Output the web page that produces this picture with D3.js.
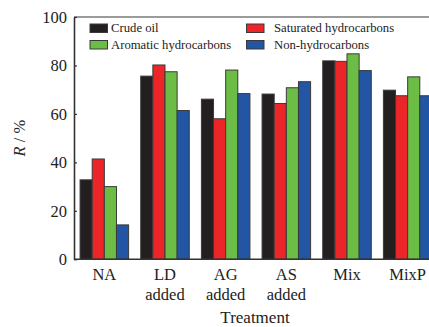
<!DOCTYPE html>
<html>
<head>
<meta charset="utf-8">
<script src="https://cdn.jsdelivr.net/npm/d3@7/dist/d3.min.js"></script>
<style>
  html, body { margin: 0; padding: 0; background: #fff; }
  svg { display: block; }
  svg text { font-family: "Liberation Serif"; }
</style>
</head>
<body>
<svg id="chart" width="429" height="327"></svg>
<script>
// Treatments (two-line labels) and recovery per fraction, R / %
const categories = ["NA", "LD added", "AG added", "AS added", "Mix", "MixP"];
const categoryLines = [["NA"], ["LD", "added"], ["AG", "added"], ["AS", "added"], ["Mix"], ["MixP"]];
const seriesNames = ["Crude oil", "Saturated hydrocarbons", "Aromatic hydrocarbons", "Non-hydrocarbons"];
const crudeOil   = [32.8, 75.6, 66.1, 68.2, 81.9, 69.8];
const saturated  = [41.4, 80.2, 58.0, 64.3, 81.7, 67.5];
const aromatic   = [30.0, 77.4, 78.1, 70.8, 84.8, 75.3];
const nonHydro   = [14.2, 61.4, 68.4, 73.3, 77.9, 67.5];
const yTicks = [0, 20, 40, 60, 80, 100];

const seriesValues = [crudeOil, saturated, aromatic, nonHydro];
const colors = ["#231f20", "#ec2528", "#6cbd45", "#2355a5"];
const serif = "Liberation Serif";

const svg = d3.select("#chart");
const mLeft = 74, mTop = 17, mBottom = 259.3, mRight = 438;

const x = d3.scaleBand().domain(categories).range([mLeft, mRight])
  .paddingInner(0.2).paddingOuter(0.1);
const xs = d3.scaleBand().domain(seriesNames).range([0, x.bandwidth()]);
const y = d3.scaleLinear().domain([0, 100]).range([mBottom, mTop]);

// Bars
const rows = categories.map((c, i) => ({ c, vals: seriesValues.map((s, j) => ({ name: seriesNames[j], v: s[i], color: colors[j] })) }));
const groups = svg.append("g").selectAll("g").data(rows).join("g")
  .attr("transform", d => `translate(${x(d.c)},0)`);
groups.selectAll("rect").data(d => d.vals).join("rect")
  .attr("x", d => xs(d.name))
  .attr("y", d => y(d.v))
  .attr("width", xs.bandwidth())
  .attr("height", d => y(0) - y(d.v))
  .attr("fill", d => d.color)
  .attr("stroke", "#3a3a3a")
  .attr("stroke-width", 1);

// Plot frame top edge
svg.append("line")
  .attr("x1", mLeft).attr("x2", 429).attr("y1", mTop).attr("y2", mTop)
  .attr("stroke", "#7a7a7a").attr("stroke-width", 1.6);

// Y axis
const yAxis = svg.append("g").attr("transform", `translate(${mLeft},0)`)
  .call(d3.axisLeft(y).tickValues(yTicks).tickSizeInner(-3).tickSizeOuter(0).tickPadding(7));
yAxis.attr("font-family", serif);
yAxis.select(".domain").attr("stroke", "#333").attr("stroke-width", 1.6);
yAxis.selectAll(".tick line").attr("stroke", "#333").attr("stroke-width", 1.2);
yAxis.selectAll(".tick text").attr("font-size", 16.5).attr("fill", "#222");

// X axis baseline
svg.append("line")
  .attr("x1", mLeft).attr("x2", 429).attr("y1", y(0)).attr("y2", y(0))
  .attr("stroke", "#333").attr("stroke-width", 1.6);

// Category labels
const catG = svg.append("g").selectAll("text").data(categories).join("text")
  .attr("x", d => x(d) + x.bandwidth() / 2)
  .attr("y", 279.5)
  .attr("text-anchor", "middle")
  .attr("font-size", 16.5)
  .attr("fill", "#222");
catG.each(function (d, i) {
  const t = d3.select(this);
  categoryLines[i].forEach((line, k) => {
    t.append("tspan").attr("x", x(d) + x.bandwidth() / 2).attr("dy", k === 0 ? 0 : 20).text(line);
  });
});

// Axis titles
svg.append("text")
  .attr("x", 255).attr("y", 323)
  .attr("text-anchor", "middle").attr("font-size", 17).attr("fill", "#222")
  .text("Treatment");

svg.append("text")
  .attr("transform", `translate(25,${(mTop + mBottom) / 2}) rotate(-90)`)
  .attr("text-anchor", "middle").attr("font-size", 16.5).attr("fill", "#222")
  .call(t => {
    t.append("tspan").attr("font-style", "italic").text("R");
    t.append("tspan").text(" / %");
  });

// Legend: two columns, swatch then label
const legendPos = [[90, 24], [246.5, 24], [90, 40.5], [246.5, 40.5]];
const labelGap = [21, 27.5, 21, 27.5];
const lg = svg.append("g").selectAll("g").data(seriesNames).join("g")
  .attr("transform", (d, i) => `translate(${legendPos[i][0]},${legendPos[i][1]})`);
lg.append("rect").attr("width", 17.5).attr("height", 8.5)
  .attr("fill", (d, i) => colors[i]).attr("stroke", "#3a3a3a").attr("stroke-width", 1);
lg.append("text").attr("x", (d, i) => labelGap[i]).attr("y", 8.3)
  .attr("font-size", 12.7).attr("fill", "#222").text(d => d);

svg.selectAll("text").attr("font-family", serif).style("font-family", serif);
</script>
</body>
</html>
